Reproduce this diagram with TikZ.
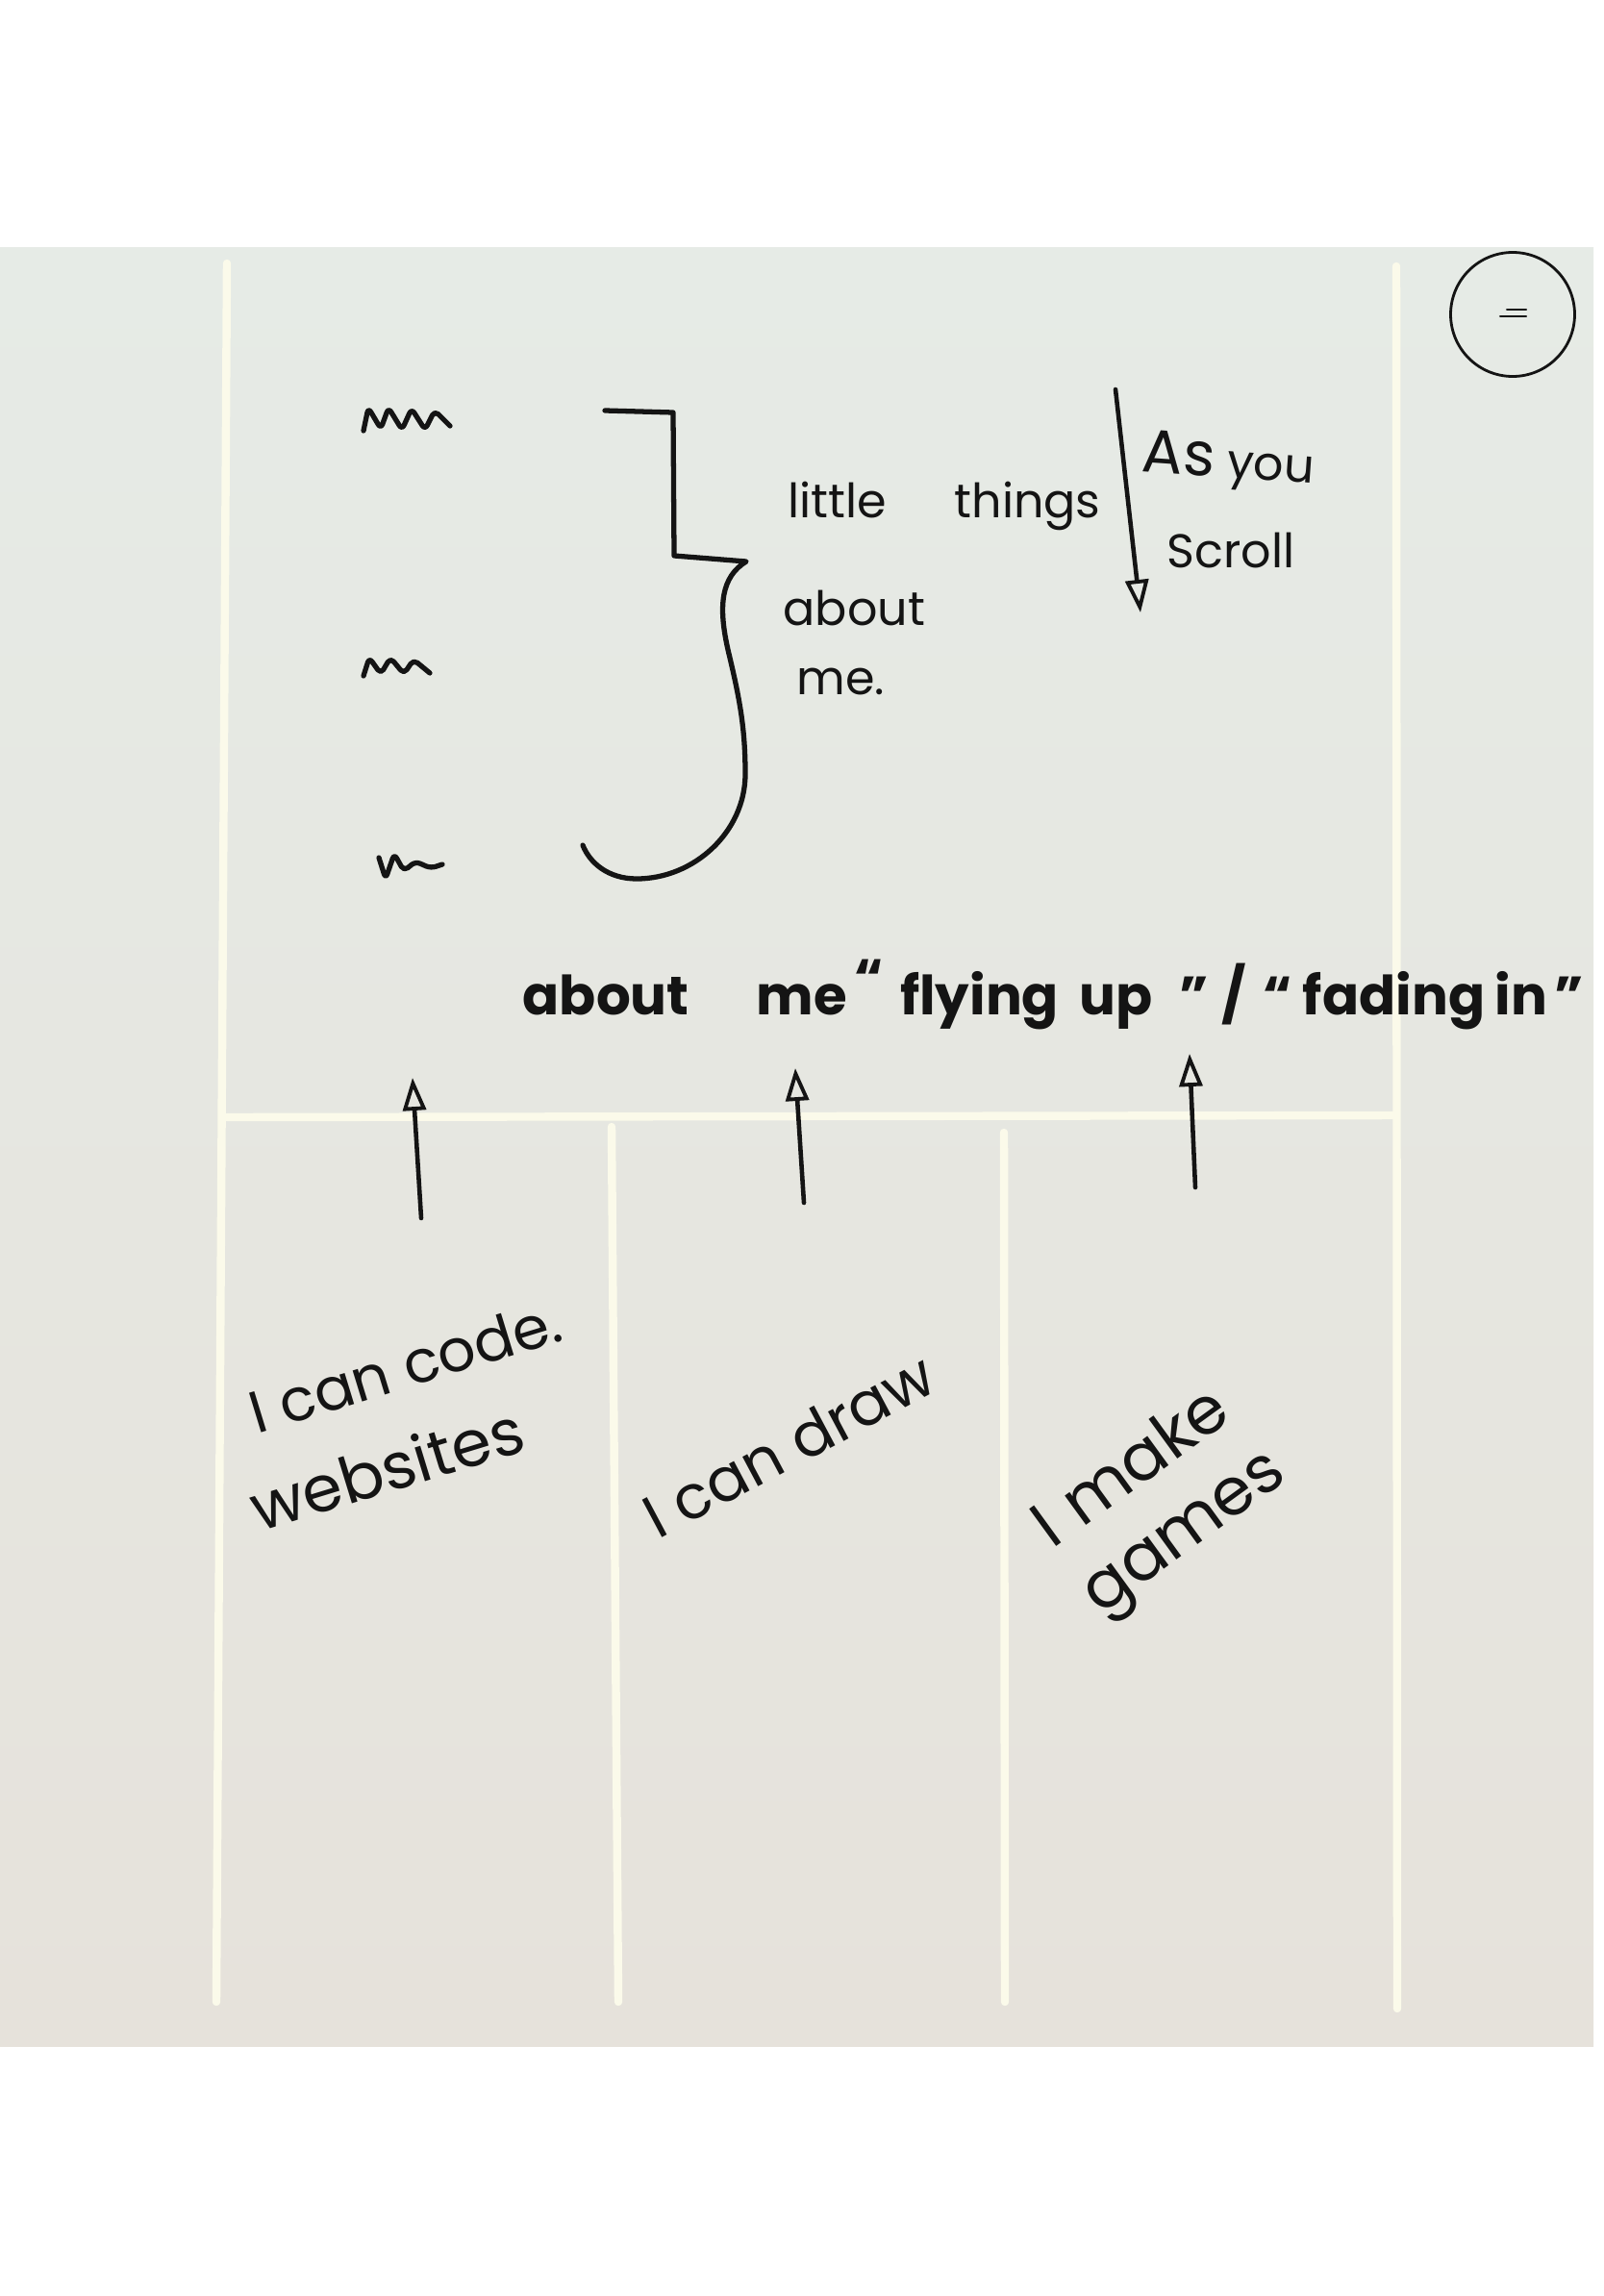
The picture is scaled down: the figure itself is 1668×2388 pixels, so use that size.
\documentclass[tikz,border=0pt]{standalone}
\usepackage{fontspec}
\setmainfont{Poppins}
\usepackage{xcolor}
\usetikzlibrary{arrows.meta,positioning}
\definecolor{paneltop}{HTML}{E6EBE6}
\definecolor{panelbot}{HTML}{E6E2DB}
\definecolor{guideline}{HTML}{FBFAEA}
\definecolor{inkblack}{HTML}{141414}

\begin{document}
\begin{tikzpicture}[x=0.1mm,y=-0.1mm,
  guide/.style={draw=guideline,line width=2.4pt,line cap=round},
  ink/.style={draw=inkblack,line width=1.3pt,line cap=round,line join=round},
  scribble/.style={ink,line width=1.5pt,rounded corners=1.5pt},
  thinnote/.style={font=\fontsize{14}{16}\selectfont,text=inkblack,inner sep=0pt},
  bigline/.style={font=\fontsize{16}{18}\selectfont\bfseries,text=inkblack,inner sep=0pt},
  colnote/.style={font=\fontsize{17.5}{19}\selectfont,text=inkblack,inner sep=0pt,align=left},
  menu/.style={draw=inkblack,circle,line width=0.8pt,minimum size=12.9mm,inner sep=0pt},
  arr/.style={ink,-{Triangle[open,length=3.4mm,width=2.4mm,line width=1.1pt]}}
]
\path[use as bounding box,fill=white] (0,0) rectangle (1668,2388);
\shade[top color=paneltop,bottom color=panelbot] (0,257) rectangle (1657,2128);

\draw[guide] (236,274) -- (225,2082);
\draw[guide] (1452,277) -- (1453,2089);
\draw[guide] (236,1162) -- (1449,1160);
\draw[guide] (636,1172) -- (643,2082);
\draw[guide] (1044,1178) -- (1045,2082);

\node[menu] (menu) at (1573,327) {};
\draw[ink,line width=0.6pt] (1567,322) -- (1587,322);
\draw[ink,line width=0.6pt] (1560,329) -- (1587,329);

\draw[scribble] (378,448) -- (383,424) -- (396,446) -- (404,424) -- (418,447) -- (428,425) -- (442,447) -- (452,427) -- (468,443);
\draw[scribble] (378,703) -- (384,684) -- (396,701) -- (406,684) -- (420,701) -- (430,686) -- (447,700);
\draw[scribble] (394,892) -- (401,914) -- (410,888) -- (420,906) -- (432,896) -- (448,903) -- (460,899);

\draw[ink,line width=1.5pt] (629,427) -- (700,429) -- (701,578) -- (776,584)
  .. controls (750,600) and (746,630) .. (758,680)
  .. controls (770,730) and (775,760) .. (775,805)
  .. controls (775,865) and (722,914) .. (662,914)
  .. controls (632,914) and (613,897) .. (606,879);

\node[thinnote,anchor=base west] (little) at (819,538) {little\hspace{20pt}things};
\node[thinnote,anchor=base west] (about) at (814,650) {about};
\node[thinnote,anchor=base west] (me) at (828,722) {me.};
\node[thinnote,anchor=base west,rotate=-4] (asyou) at (1186,490) {{\fontsize{18}{18}\selectfont As} you};
\node[thinnote,anchor=base west] (scroll) at (1213,590) {Scroll};

\coordinate (scrolltop) at (1160,405);
\coordinate (scrollend) at (1186,637);
\draw[arr] (scrolltop) -- (scrollend);

\node[bigline,anchor=base west] (flying) at (543,1055)
  {about\hspace{20pt}me\hspace{2pt}\raisebox{5pt}{“}\hspace{5pt}flying\hspace{6pt}up\hspace{8pt}”\hspace{4pt}/\hspace{5pt}“\hspace{3pt}fading\hspace{3pt}in\hspace{2pt}”};

\coordinate (codetail) at (438,1267);
\coordinate (codehead) at (429,1121);
\coordinate (drawtail) at (836,1251);
\coordinate (drawhead) at (827,1111);
\coordinate (gametail) at (1243,1235);
\coordinate (gamehead) at (1237,1096);
\draw[arr] (codetail) -- (codehead);
\draw[arr] (drawtail) -- (drawhead);
\draw[arr] (gametail) -- (gamehead);

\node[colnote,rotate=17] (code) at (422,1472)
  {\hspace*{8pt}I can code.\\[9pt]{\fontsize{19}{20}\selectfont websites}};
\node[colnote,rotate=28,font=\fontsize{18}{20}\selectfont] (drawing) at (820,1503) {I can draw};
\node[colnote,rotate=36,font=\fontsize{19.5}{21}\selectfont] (make) at (1208,1562)
  {I\hspace{6pt}make\\[3pt]games};
\end{tikzpicture}
\end{document}
